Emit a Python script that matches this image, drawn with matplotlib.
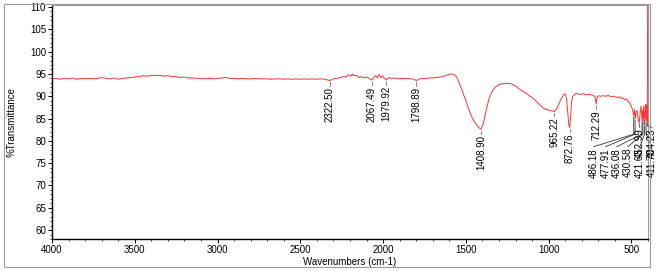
import matplotlib
matplotlib.use("Agg")
import matplotlib.pyplot as plt
from matplotlib.patches import Rectangle
from matplotlib.ticker import MultipleLocator

plt.rcParams['font.family'] = ['Liberation Sans', 'DejaVu Sans']

# spectrum (wavenumber, %T)
wavenumber = [4000, 3975, 3950, 3925, 3900, 3875, 3850, 3825, 3800, 3775, 3750, 3725,
              3700, 3675, 3650, 3625, 3600, 3575, 3550, 3525, 3500, 3475, 3450, 3425,
              3400, 3375, 3350, 3325, 3300, 3275, 3250, 3225, 3200, 3175, 3150, 3125,
              3100, 3075, 3050, 3025, 3000, 2975, 2950, 2925, 2900, 2875, 2850, 2825,
              2800, 2775, 2750, 2725, 2700, 2675, 2650, 2625, 2600, 2575, 2550, 2525,
              2500, 2475, 2450, 2425, 2400, 2375, 2350, 2322.5, 2300, 2280, 2260, 2240,
              2225, 2210, 2195, 2185, 2175, 2160, 2145, 2130, 2115, 2100, 2085, 2067.49,
              2055, 2045, 2035, 2025, 2015, 2005, 1995, 1979.92, 1965, 1950, 1930, 1910,
              1890, 1870, 1850, 1830, 1815, 1798.89, 1780, 1760, 1740, 1720, 1700, 1680,
              1660, 1640, 1620, 1600, 1585, 1570, 1555, 1540, 1520, 1500, 1480, 1460,
              1440, 1420, 1408.9, 1395, 1380, 1360, 1340, 1320, 1300, 1280, 1260, 1240,
              1220, 1200, 1180, 1160, 1140, 1120, 1100, 1080, 1060, 1040, 1020, 1000,
              980, 965.22, 950, 935, 920, 910, 900, 892, 885, 878, 872.76, 868,
              862, 855, 845, 835, 820, 805, 790, 775, 760, 745, 730, 720,
              712.29, 708, 700, 685, 670, 655, 640, 625, 610, 595, 580, 570,
              560, 550, 540, 530, 520, 510, 500, 493, 486.18, 482, 477.91, 472,
              466, 460, 452.99, 447, 442, 436.08, 433, 430.58, 426, 421.63, 417, 414,
              411.70, 408, 404.23, 402]
transmittance = [93.9, 94.0, 93.8, 94.0, 93.9, 94.1, 93.8, 94.0, 93.9, 94.0, 93.9, 94.0,
                 94.2, 94.0, 93.9, 94.1, 93.8, 94.0, 94.1, 94.2, 94.3, 94.4, 94.6, 94.5,
                 94.7, 94.6, 94.7, 94.5, 94.6, 94.4, 94.4, 94.2, 94.3, 94.1, 94.1, 94.0,
                 94.0, 93.9, 94.0, 93.9, 94.0, 94.1, 94.2, 94.0, 94.0, 93.9, 94.0, 93.9,
                 93.9, 94.0, 93.9, 93.9, 93.9, 93.8, 93.9, 93.9, 93.8, 93.9, 93.8, 93.9,
                 93.8, 93.9, 93.8, 93.9, 93.8, 93.9, 93.8, 93.5, 93.9, 94.0, 94.2, 94.4,
                 94.3, 94.8, 94.5, 95.0, 94.6, 94.7, 94.2, 94.4, 94.1, 94.3, 94.0, 93.6,
                 94.3, 94.6, 94.1, 94.9, 94.2, 94.6, 94.1, 93.7, 94.2, 94.0, 94.1, 93.9,
                 94.0, 93.9, 94.0, 93.9, 93.8, 93.5, 93.9, 94.0, 94.0, 94.1, 94.1, 94.2,
                 94.3, 94.4, 94.7, 94.9, 95.0, 94.8, 94.3, 93.0, 91.0, 89.0, 86.8, 85.0,
                 83.8, 82.9, 82.6, 83.8, 86.5, 89.5, 91.2, 92.1, 92.6, 92.8, 92.9, 92.9,
                 92.7, 92.3, 91.7, 91.2, 90.8, 90.2, 89.7, 89.1, 88.3, 87.6, 87.1, 86.9,
                 86.7, 86.6, 87.3, 88.6, 89.7, 90.3, 90.5, 89.5, 86.5, 83.5, 83.0, 85.0,
                 88.5, 90.0, 90.3, 90.7, 90.5, 90.4, 90.6, 90.3, 90.4, 90.3, 90.2, 89.8,
                 88.2, 89.7, 90.1, 90.0, 90.1, 90.0, 90.2, 89.9, 90.0, 89.8, 89.7, 89.9,
                 89.5, 89.6, 89.2, 89.4, 88.8, 88.5, 87.6, 87.0, 85.6, 87.0, 84.9, 86.5,
                 86.8, 85.0, 84.0, 86.5, 87.8, 84.5, 86.7, 85.0, 87.8, 83.5, 87.5, 88.2,
                 84.5, 88.0, 84.3, 112.0]

# labelled peaks
peak_wn = [2322.50, 2067.49, 1979.92, 1798.89, 1408.90, 965.22, 872.76, 712.29]
peak_t = [93.5, 93.6, 93.7, 93.5, 82.6, 86.6, 83.0, 88.2]

# crowded peaks at the low-wavenumber end, labels pulled apart with leader lines
low_wn = [486.18, 477.91, 436.08, 430.58, 421.63, 411.70]
low_t = [85.6, 84.9, 84.5, 85.0, 83.5, 84.5]
low_text_x = [727, 655, 588, 522, 449, 377]
top_wn = [452.99, 404.23]
top_t = [84.0, 84.3]
top_text_x = [449, 377]

fig = plt.figure(figsize=(6.6, 2.71), dpi=100)
ax = fig.add_axes([52 / 660, 1 - 239 / 271, 596 / 660, 234 / 271])

ax.plot(wavenumber, transmittance, color='#ff3333', lw=0.7)

ax.set_xlim(4000, 400)
ax.set_ylim(58, 110.45)

lab_kw = dict(rotation=90, ha='center', va='top', fontsize=7, color='black')
for w, t in zip(peak_wn, peak_t):
    ax.plot([w, w], [t - 0.3, t - 1.1], color='#888888', lw=0.7)
    ax.text(w, t - 1.4, '%.2f' % w, **lab_kw)

for w, t, tx in zip(low_wn, low_t, low_text_x):
    ax.plot([tx, w, w], [78.7, 81.5, t - 0.3], color='#333333', lw=0.6, clip_on=False)
    ax.text(tx, 78.4, '%.2f' % w, clip_on=False, **lab_kw)

for w, t, tx in zip(top_wn, top_t, top_text_x):
    ax.plot([tx, w, w], [83.0, 83.3, t - 0.2], color='#333333', lw=0.6, clip_on=False)
    ax.text(tx, 82.8, '%.2f' % w, clip_on=False, **lab_kw)

ax.xaxis.set_major_locator(MultipleLocator(500))
ax.xaxis.set_minor_locator(MultipleLocator(100))
ax.yaxis.set_major_locator(MultipleLocator(5))
ax.yaxis.set_minor_locator(MultipleLocator(1))
ax.set_yticks(range(60, 111, 5))
ax.set_xticks(range(4000, 499, -500))
ax.tick_params(which='major', direction='out', length=3, width=0.7, labelsize=7, pad=1.2)
ax.tick_params(which='minor', direction='out', length=1.5, width=0.5)

for s in ['left', 'bottom']:
    ax.spines[s].set_color('black')
    ax.spines[s].set_linewidth(1.0)
for s in ['top', 'right']:
    ax.spines[s].set_color('#999999')
    ax.spines[s].set_linewidth(0.8)

ax.set_ylabel('%Transmittance', fontsize=7)
ax.yaxis.set_label_coords(-0.060, 0.5)
ax.set_xlabel('Wavenumbers (cm-1)', fontsize=7)
ax.xaxis.set_label_coords(0.5, -0.078)

fig.patches.append(Rectangle((4 / 660, 1 - 267 / 271), 646 / 660, 263 / 271,
                             transform=fig.transFigure, fill=False,
                             ec='#999999', lw=0.8))

fig.savefig('out.png', dpi=100)
